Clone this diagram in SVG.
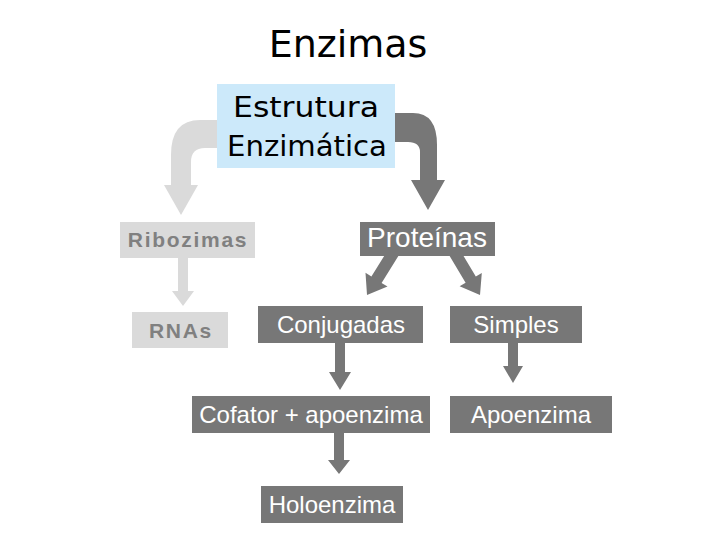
<svg xmlns="http://www.w3.org/2000/svg" width="720" height="540" viewBox="0 0 720 540">
<style>
.dark{fill:#777777}
.light{fill:#dadada}
.wt{font-family:"Liberation Sans",Arial,sans-serif;font-size:24px;fill:#ffffff;text-anchor:middle}
.gt{font-family:"Liberation Sans",Arial,sans-serif;font-size:21px;font-weight:bold;fill:#808080;text-anchor:middle;letter-spacing:1.7px}
.ct{font-family:"DejaVu Sans",sans-serif;fill:#000000;text-anchor:middle}
</style>
<rect width="720" height="540" fill="#ffffff"/>
<g id="connectors">
<path class="light" d="M217,120 L200,120 Q171,120 171,155 L171,185 L164,185 L181,215 L198,185 L191,185 L191,162 Q191,148 205,148 L217,148 Z"/>
<path class="dark" d="M395,113 L413,113 Q437,113 437,145 L437,180 L445,180 L428,210 L411,180 L420,180 L420,152 Q420,142 408,142 L395,142 Z"/>
<polygon class="light" points="178,258 188,258 188,291 194,291 183,306 172,291 178,291"/>
<polygon class="dark" points="389.9,246.8 400.1,253.2 381.6,282.9 387.5,286.6 367,295 365.5,272.8 371.4,276.5"/>
<polygon class="dark" points="447.9,253.1 458.1,246.9 475.8,276.5 481.8,272.9 480,295 459.6,286.3 465.6,282.7"/>
<polygon class="dark" points="335,343 345,343 345,372 351,372 340,390 329,372 335,372"/>
<polygon class="dark" points="508,343 518,343 518,366 523,366 513,383 503,366 508,366"/>
<polygon class="dark" points="334,433 344,433 344,460 350,460 339,474 328,460 334,460"/>
</g>
<g id="title"><text class="ct" x="348" y="57" font-size="38">Enzimas</text></g>
<g id="estrutura">
<rect x="217" y="84" width="178" height="84" fill="#cce9fa"/>
<text class="ct" x="306" y="117" font-size="28" textLength="146" lengthAdjust="spacingAndGlyphs">Estrutura</text>
<text class="ct" x="307" y="156" font-size="28" textLength="160" lengthAdjust="spacingAndGlyphs">Enzimática</text>
</g>
<g id="ribozimas"><rect class="light" x="120" y="222" width="135" height="36"/><text class="gt" x="188" y="247">Ribozimas</text></g>
<g id="rnas"><rect class="light" x="132" y="312" width="96" height="36"/><text class="gt" x="181" y="338">RNAs</text></g>
<g id="proteinas"><rect class="dark" x="360" y="222" width="135" height="34"/><text class="wt" x="427" y="247" style="font-size:28px">Proteínas</text></g>
<g id="conjugadas"><rect class="dark" x="258" y="306" width="165" height="37"/><text class="wt" x="341" y="333">Conjugadas</text></g>
<g id="simples"><rect class="dark" x="450" y="306" width="132" height="37"/><text class="wt" x="516" y="333">Simples</text></g>
<g id="cofator"><rect class="dark" x="192" y="396" width="238" height="37"/><text class="wt" x="311" y="423">Cofator + apoenzima</text></g>
<g id="apoenzima"><rect class="dark" x="450" y="396" width="162" height="37"/><text class="wt" x="531" y="423">Apoenzima</text></g>
<g id="holoenzima"><rect class="dark" x="261" y="486" width="142" height="37"/><text class="wt" x="332" y="513">Holoenzima</text></g>
</svg>
